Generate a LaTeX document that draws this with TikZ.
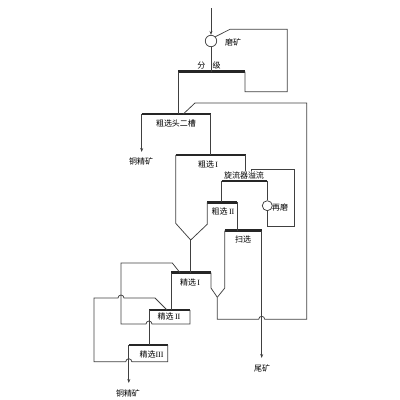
\documentclass[tikz,border=0pt]{standalone}
\usepackage{fontspec}
\setmainfont{Liberation Serif}
\newfontfamily\cjk{Noto Sans CJK SC}
\usetikzlibrary{arrows.meta}

\begin{document}
\begin{tikzpicture}[
  x=1pt, y=-1pt,
  line/.style={draw=black!75, line width=0.75pt},
  bar/.style={draw=black!85, line width=2.5pt},
  lbl/.style={font=\cjk\fontsize{8}{9.6}\selectfont, inner sep=1pt},
  mill/.style={line, circle, minimum size=11.4pt, inner sep=0pt},
  hopr/.style={insert path={arc[start angle=180, end angle=360, radius=3]}},
  hopl/.style={insert path={arc[start angle=0, end angle=-180, radius=3]}},
  >={Stealth[length=4pt, width=3pt]}
]
\useasboundingbox (0,0) rectangle (400,400);

% cell bars: west and east ends
\coordinate (cls-w) at (178,71.7);   \coordinate (cls-e) at (245,71.7);
\coordinate (hd-w)  at (141.7,114);  \coordinate (hd-e)  at (210.7,114);
\coordinate (r1-w)  at (175.7,155);  \coordinate (r1-e)  at (245.7,155);
\coordinate (cy-w)  at (221.7,181);  \coordinate (cy-e)  at (267.3,181);
\coordinate (r2-w)  at (207.2,202.3);\coordinate (r2-e)  at (237.3,202.3);
\coordinate (sc-w)  at (224.8,230.7);\coordinate (sc-e)  at (261.7,230.7);
\coordinate (k1-w)  at (171,272.7);  \coordinate (k1-e)  at (211,272.7);
\coordinate (k2-w)  at (149,310);    \coordinate (k2-e)  at (190,310);
\coordinate (k3-w)  at (128.8,345);  \coordinate (k3-e)  at (167.7,345);
\foreach \c in {cls,hd,r1,cy,r2,sc,k1,k2,k3}
  \draw[bar] (\c-w) -- (\c-e);

% junctions and free ends
\coordinate (feed) at (211,8);
\coordinate (vr) at (190.7,240);
\coordinate (vk) at (217.3,297.3);
\coordinate (con1-in) at (141.7,152);
\coordinate (con2-in) at (128.8,383);
\coordinate (tail-in) at (261.7,358);

\node[mill] (mill) at (211,41) {};
\node[mill, minimum size=10pt] (regr) at (267.3,205.7) {};

\node[lbl] (mill-t) at (233,42) {磨矿};
\node[lbl] (cls-t) at (209,65) {分\hspace{0.9em}级};
\node[lbl] (hd-t) at (176,123) {粗选头二槽};
\node[lbl] (con1) at (141,161) {铜精矿};
\node[lbl] (r1-t) at (208,164) {粗选\,\rmfamily I};
\node[lbl] (cy-t) at (244,175.5) {旋流器溢流};
\node[lbl] (rg-t) at (280,207.5) {再磨};
\node[lbl] (r2-t) at (223,211) {粗选\,\rmfamily II};
\node[lbl] (sc-t) at (243,239.5) {扫选};
\node[lbl] (k1-t) at (190,282) {精选\,\rmfamily I};
\node[lbl] (k2-t) at (169,316.5) {精选\,\rmfamily II};
\node[lbl] (k3-t) at (151.5,354) {精选\rmfamily III};
\node[lbl] (tail) at (262,368) {尾矿};
\node[lbl] (con2) at (128,393) {铜精矿};

% grinding and classifying
\draw[line, ->] (feed) -- (mill.north);
\draw[line] (mill.south) -- (mill.south |- cls-w);
\draw[line] (cls-e) -- ++(0,20) -- ++(42.3,0) -- ++(0,-62.4) -- ++(-57.3,0) -- (mill.north east);
\draw[line] (cls-w) -- (cls-w |- hd-w);

% roughing
\draw[line, ->] (hd-w) -- (con1-in);
\draw[line] (hd-e) -- (hd-e |- r1-w);
\draw[line] (r1-w) -- ++(0,68.3) -- (vr);
\draw[line] (r1-e) -- (245.7,171);
\draw[line] (cy-w) -- (cy-w |- r2-w);
\draw[line] (cy-e) -- (regr.north);
\draw[line] (regr.south) -- (267.3,226.7) -- (294.3,226.7) -- (294.3,169.3) -- (251.7,169.3) -- (251.7,171);
\draw[line] (r2-w) -- ++(0,22) -- (vr);
\draw[line] (vr) -- (vr |- k1-w);
\draw[line] (r2-e) -- (r2-e |- sc-w);

% scavenging
\draw[line, ->] (sc-e) -- (tail-in);
\draw[line] (sc-w) -- ++(0,57.3) -- (vk);
\draw[line] (k1-e) -- ++(0,15.3) -- (vk);
\draw[line] (vk) -- (217.3,319.3) -- (258.7,319.3) [hopr] -- (306.7,319.3)
  -- (306.7,103) -- (195,103) -- (183.3,114);

% cleaning
\draw[line] (k1-w) -- (k1-w |- k2-w);
\draw[line] (180,272.7) -- (172.3,263) -- (121,263) -- (121,324) -- (146,324) [hopr]
  -- (190,324) -- (k2-e);
\draw[line] (k2-w) -- (k2-w |- k3-w);
\draw[line] (k3-e) -- ++(0,16.7) -- (131.8,361.7) [hopl] -- (94,361.7) -- (94,298)
  -- (118,298) [hopr] -- (155,298) -- (167,310);
\draw[line, ->] (k3-w) -- (con2-in);
\end{tikzpicture}
\end{document}
